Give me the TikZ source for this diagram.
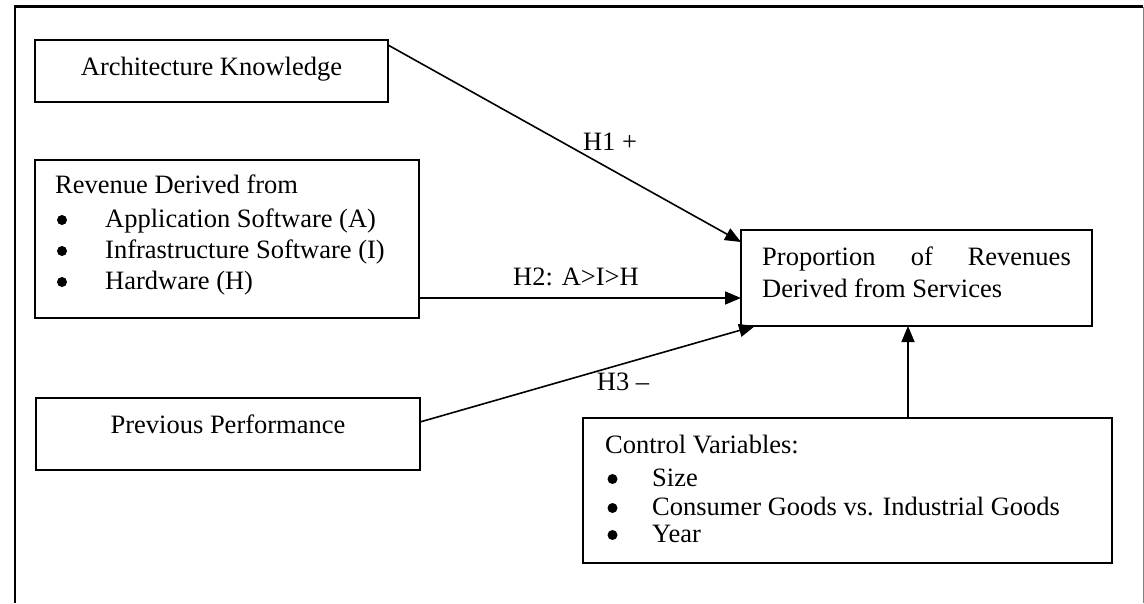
\documentclass[tikz,border=0pt]{standalone}
\usepackage{fontspec}
\setmainfont{Liberation Serif}
\usetikzlibrary{arrows.meta,calc}
\begin{document}
\begin{tikzpicture}[x=1pt,y=-1pt,
  box/.style={draw, line width=2pt, rectangle, inner sep=0pt, outer sep=0pt, anchor=north west},
  txt/.style={font=\fontsize{26.5}{30}\selectfont, inner sep=0pt, anchor=base west},
  ctr/.style={txt, anchor=base},
  dot/.style={circle, fill, inner sep=0pt, minimum size=10pt},
  link/.style={line width=1.6pt, -{Triangle[length=16pt,width=13pt]}}]

\useasboundingbox (0,0) rectangle (1144,603);

% outer frame (open at the bottom)
\draw[line width=2.2pt] (15,603) -- (15,6.5) -- (1143,6.5);
\draw[line width=1pt, gray] (1143,6.5) -- (1143,603);

% boxes
\node[box, minimum width=353pt, minimum height=62pt]  (ak)  at (35,40)  {};
\node[box, minimum width=384pt, minimum height=158pt] (rev) at (35,160) {};
\node[box, minimum width=384pt, minimum height=72pt]  (pp)  at (36,398) {};
\node[box, minimum width=351pt, minimum height=96pt]  (tgt) at (741,230) {};
\node[box, minimum width=529pt, minimum height=145pt] (ctl) at (583,418) {};

% box texts
\node[ctr] (akT) at (211.5,75) {Architecture Knowledge};

\node[txt] (revH) at (55,193) {Revenue Derived from};
\node[dot] (revB1) at (62,220) {};
\node[dot] (revB2) at (62,251) {};
\node[dot] (revB3) at (62,282) {};
\node[txt] (revA) at (105,227) {Application Software (A)};
\node[txt] (revI) at (105,258) {Infrastructure Software (I)};
\node[txt] (revW) at (105,289) {Hardware (H)};

\node[ctr] (ppT) at (228,433) {Previous Performance};

\node[txt] (tgtA) at (762,265) {Proportion};
\node[ctr] (tgtB) at (922,265) {of};
\node[txt, anchor=base east] (tgtC) at (1071,265) {Revenues};
\node[txt] (tgtD) at (762,297) {Derived from Services};

\node[txt] (ctlH) at (605,453) {Control Variables:};
\node[dot] (ctlB1) at (612.5,479) {};
\node[dot] (ctlB2) at (612.5,508) {};
\node[dot] (ctlB3) at (612.5,535) {};
\node[txt] (ctlS) at (652,486) {Size};
\node[txt] (ctlG) at (652,515) {Consumer Goods vs. Industrial Goods};
\node[txt] (ctlY) at (652,542) {Year};

% hypothesis labels
\node[ctr] (h1) at (610,150) {H1 +};
\node[ctr] (h2) at (576,285) {H2: A>I>H};
\node[ctr] (h3) at (623,390) {H3 –};

% connectors
\draw[link] ($(ak.north east)+(0,5)$) -- ($(tgt.north west)+(0,12)$);
\draw[link] ($(rev.south east)+(0,-20)$) -- ($(tgt.south west)+(0,-28)$);
\draw[link] ($(pp.north east)+(0,24)$) -- ($(tgt.south west)+(14,0)$);
\draw[link] ($(ctl.north west)+(325,0)$) -- ($(tgt.south west)+(167,0)$);
\end{tikzpicture}
\end{document}
